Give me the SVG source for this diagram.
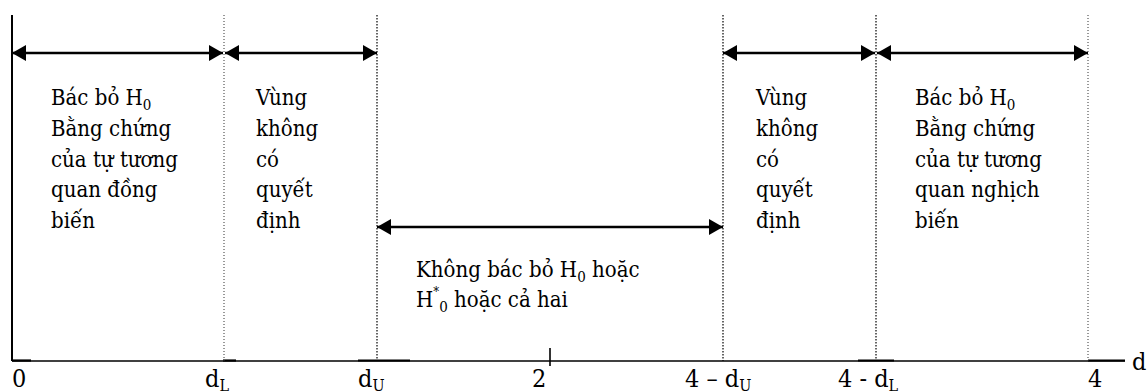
<svg xmlns="http://www.w3.org/2000/svg" width="1148" height="391" viewBox="0 0 1148 391">
<defs>
<style>
.t{font-family:"DejaVu Serif Condensed","DejaVu Serif",serif;font-stretch:condensed;fill:#000}
.lbl{font-size:22px}
.ax{font-size:25px}
.arr{stroke:#000;stroke-width:2.5;fill:none;marker-start:url(#ms);marker-end:url(#me)}
.dotA{stroke:#000;stroke-width:1.2;stroke-dasharray:1.5 1.5}
.dotB{stroke:#333;stroke-width:1;stroke-dasharray:1 2}
.axis{stroke:#000;stroke-width:1.6}
.seg{stroke:#000;stroke-width:2.2}
</style>
<marker id="me" markerUnits="userSpaceOnUse" markerWidth="14" markerHeight="16" viewBox="0 0 14 16" refX="14" refY="8" orient="auto"><path d="M0,0 L14,8 L0,16 z" fill="#000"/></marker>
<marker id="ms" markerUnits="userSpaceOnUse" markerWidth="14" markerHeight="16" viewBox="0 0 14 16" refX="0" refY="8" orient="auto"><path d="M14,0 L0,8 L14,16 z" fill="#000"/></marker>
</defs>
<g id="axes">
<line x1="12" y1="15" x2="12" y2="361" stroke="#000" stroke-width="2"/>
<line class="axis" x1="12" y1="361" x2="1125" y2="361"/>
<line class="seg" x1="12" y1="360.5" x2="31" y2="360.5"/>
<line class="seg" x1="223" y1="360.5" x2="236" y2="360.5"/>
<line class="seg" x1="358" y1="360.5" x2="410" y2="360.5"/>
<line class="seg" x1="858" y1="360.5" x2="894" y2="360.5"/>
<line class="seg" x1="1088" y1="360.5" x2="1125" y2="360.5"/>
<line x1="550" y1="348" x2="550" y2="366" stroke="#000" stroke-width="1.6"/>
</g>
<g id="guides">
<line class="dotB" x1="224" y1="15" x2="224" y2="361"/>
<line class="dotA" x1="377" y1="15" x2="377" y2="361"/>
<line class="dotA" x1="723" y1="15" x2="723" y2="361"/>
<line class="dotA" x1="876" y1="15" x2="876" y2="361"/>
<line class="dotB" x1="1088" y1="15" x2="1088" y2="361"/>
</g>
<g id="connectors">
<line class="arr" x1="12" y1="53" x2="223" y2="53"/>
<line class="arr" x1="225" y1="53" x2="377" y2="53"/>
<line class="arr" x1="723" y1="53" x2="875" y2="53"/>
<line class="arr" x1="877" y1="53" x2="1088" y2="53"/>
<line class="arr" x1="377" y1="227" x2="723" y2="227"/>
</g>
<g id="region-reject-positive">
<text class="t lbl" x="51" y="105">Bác bỏ H<tspan font-size="15" dy="5">0</tspan></text>
<text class="t lbl" x="51" y="135.75">Bằng chứng</text>
<text class="t lbl" x="51" y="166.5">của tự tương</text>
<text class="t lbl" x="51" y="197.25">quan đồng</text>
<text class="t lbl" x="51" y="228">biến</text>
</g>
<g id="region-indecisive-left">
<text class="t lbl" x="256" y="105">Vùng</text>
<text class="t lbl" x="256" y="135.75">không</text>
<text class="t lbl" x="256" y="166.5">có</text>
<text class="t lbl" x="256" y="197.25">quyết</text>
<text class="t lbl" x="256" y="228">định</text>
</g>
<g id="region-no-reject">
<text class="t lbl" x="416" y="277">Không bác bỏ H<tspan font-size="15" dy="5">0</tspan><tspan dy="-5"> hoặc</tspan></text>
<text class="t lbl" x="416" y="307">H<tspan font-size="13" dy="-11">*</tspan><tspan font-size="15" dy="16">0</tspan><tspan dy="-5"> hoặc cả hai</tspan></text>
</g>
<g id="region-indecisive-right">
<text class="t lbl" x="756" y="105">Vùng</text>
<text class="t lbl" x="756" y="135.75">không</text>
<text class="t lbl" x="756" y="166.5">có</text>
<text class="t lbl" x="756" y="197.25">quyết</text>
<text class="t lbl" x="756" y="228">định</text>
</g>
<g id="region-reject-negative">
<text class="t lbl" x="915" y="105">Bác bỏ H<tspan font-size="15" dy="5">0</tspan></text>
<text class="t lbl" x="915" y="135.75">Bằng chứng</text>
<text class="t lbl" x="915" y="166.5">của tự tương</text>
<text class="t lbl" x="915" y="197.25">quan nghịch</text>
<text class="t lbl" x="915" y="228">biến</text>
</g>
<g id="axis-labels">
<text class="t ax" x="12" y="387">0</text>
<text class="t ax" x="205" y="387">d<tspan font-size="16" dy="4">L</tspan></text>
<text class="t ax" x="358" y="387">d<tspan font-size="16" dy="4">U</tspan></text>
<text class="t ax" x="532" y="387">2</text>
<text class="t ax" x="685" y="387">4 – d<tspan font-size="16" dy="4">U</tspan></text>
<text class="t ax" x="838" y="387">4 - d<tspan font-size="16" dy="4">L</tspan></text>
<text class="t ax" x="1088" y="387">4</text>
<text class="t ax" x="1132" y="370">d</text>
</g>
</svg>
